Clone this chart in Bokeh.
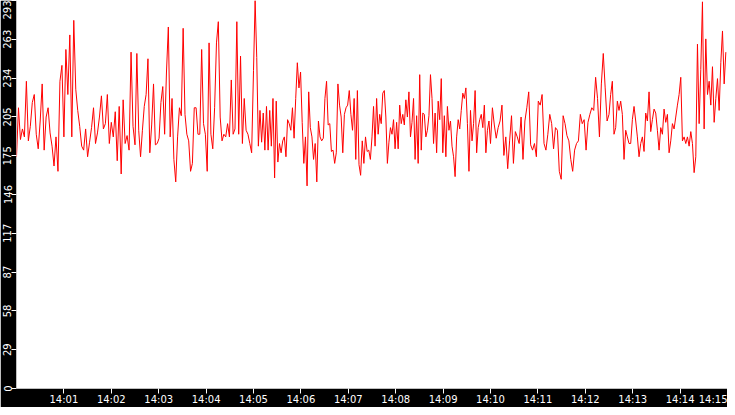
import numpy as np
from bokeh.plotting import figure
from bokeh.models import Range1d, FixedTicker, CustomJSTickFormatter
from bokeh.embed import file_html
from bokeh.resources import INLINE

# --- data, one list per 2.5-minute window starting 14:00:00 ---
seg_1400 = [175,212,188,196,190,232,187,198,216,222, 192,181,202,230,180,205,212,193,183,168,
            190,164,232,244,190,256,222,267,190,278, 226,210,198,183,180,196,175,186,197,212,
            185,193,205,221,196,200,222,185,201,190, 209,172,213,162,218,185,191,180,254,198]
seg_1402 = [184,253,195,175,195,213,222,249,178,199, 230,184,185,189,216,228,192,239,273,190,
            219,173,156,190,212,206,272,207,192,187, 164,170,212,212,192,192,256,200,192,164,
            261,192,181,212,261,277,205,187,192,190, 200,190,233,192,196,277,192,251,185,219,
            195,192,185,178]
seg_1405 = [240,293,250,183,210,186,208,180,213,180, 210,183,219,159,217,171,185,178,187,190,
            175,203,200,195,212,189,219,246,227,239, 201,170,190,153,224,197,190,173,185,156,
            202,190,187,189,219,232,199,200,179,180, 170,178,230,214,205,178,207,212,214,225,
            207,195,219,173,225,169,161,187,170,190, 179,180,173]
seg_1407 = [190,213,183,219,192,207,200,223,225,205, 170,186,197,192,203,181,201,181,214,200,
            207,199,218,205,224,190,201,219,173,206, 170,237,180,208,207,190,195,206,237,219,
            185,208,178,217,203,234,178,206,175,213, 195,202,183,175,160,190,203,196,210,223,
            219,227,200,164,210,187,200,225,178,197, 203,207,197,214,178,195,202]
seg_1410 = [185,212,199,189,197,202,214,176,190,166, 187,206,170,194,190,185,205,173,202,212,
            224,184,180,185,175,217,214,222,185,180, 192,207,200,181,197,195,164,158,206,200,
            191,187,173,164,180,185,187,207,200,203, 180,201,207,212,210,235,219,190,230,253,
            227,202]
seg_1412 = [207,222,232,192,197,217,210,217,207,173, 195,190,185,185,203,213,202,190,175,185,
            190,179,208,202,224,194,203,211,208,195, 180,197,192,211,201,207,178,187,200,196,
            205,214,222,235,187,190,185,190,183,194, 185,163,175,260,200,241,292,196,264,222,
            232,214,243,201,219,234,210,246,270,230,254]

y_max = 293.0
y_ticks = [0, 29.3, 58.6, 87.9, 117.2, 146.5, 175.8, 205.1, 234.4, 263.7, 293.0]
y_tick_labels = ["0", "29", "58", "87", "117", "146", "175", "205", "234", "263", "293"]

T0 = 1704117600000.0          # 2024-01-01 14:00:00 UTC in ms
MIN = 60000.0
x_tick_minutes = list(range(1, 16))

segments = [seg_1400, seg_1402, seg_1405, seg_1407, seg_1410, seg_1412]
xs, ys = [], []
for i, seg in enumerate(segments):
    start = T0 + i * 2.5 * MIN
    xs.extend(np.linspace(start, start + 2.5 * MIN, len(seg), endpoint=False).tolist())
    ys.extend(seg)

p = figure(width=727, height=407, output_backend="svg", toolbar_location=None,
           x_axis_type="datetime",
           x_range=Range1d(T0, T0 + 15 * MIN), y_range=Range1d(0, y_max),
           min_border_left=15, min_border_bottom=16, min_border_top=0, min_border_right=0)
p.background_fill_color = "white"
p.border_fill_color = "black"
p.outline_line_color = None
p.xgrid.visible = False
p.ygrid.visible = False

p.line(xs, ys, line_color="#ff0000", line_width=1)

xa = p.xaxis[0]
xa.ticker = FixedTicker(ticks=[T0 + m * MIN for m in x_tick_minutes])
xa.formatter = CustomJSTickFormatter(code="""
    const d = new Date(tick);
    const h = String(d.getUTCHours()).padStart(2, '0');
    const m = String(d.getUTCMinutes()).padStart(2, '0');
    return h + ':' + m;
""")

ya = p.yaxis[0]
ya.ticker = FixedTicker(ticks=y_ticks)
ya.formatter = CustomJSTickFormatter(args=dict(tvals=y_ticks, tlabels=y_tick_labels), code="""
    let best = 0;
    for (let i = 0; i < tvals.length; i++) {
        if (Math.abs(tvals[i] - tick) < Math.abs(tvals[best] - tick)) best = i;
    }
    return tlabels[best];
""")
ya.major_label_orientation = "vertical"

for ax in (xa, ya):
    ax.axis_line_color = None
    ax.major_tick_line_color = "white"
    ax.major_tick_out = 5
    ax.major_tick_in = 0
    ax.minor_tick_line_color = None
    ax.major_label_text_color = "white"
    ax.major_label_text_font = "DejaVu Sans"
    ax.major_label_text_font_size = "10px"
    ax.major_label_standoff = 0

open("out.html", "w").write(file_html(p, INLINE))
